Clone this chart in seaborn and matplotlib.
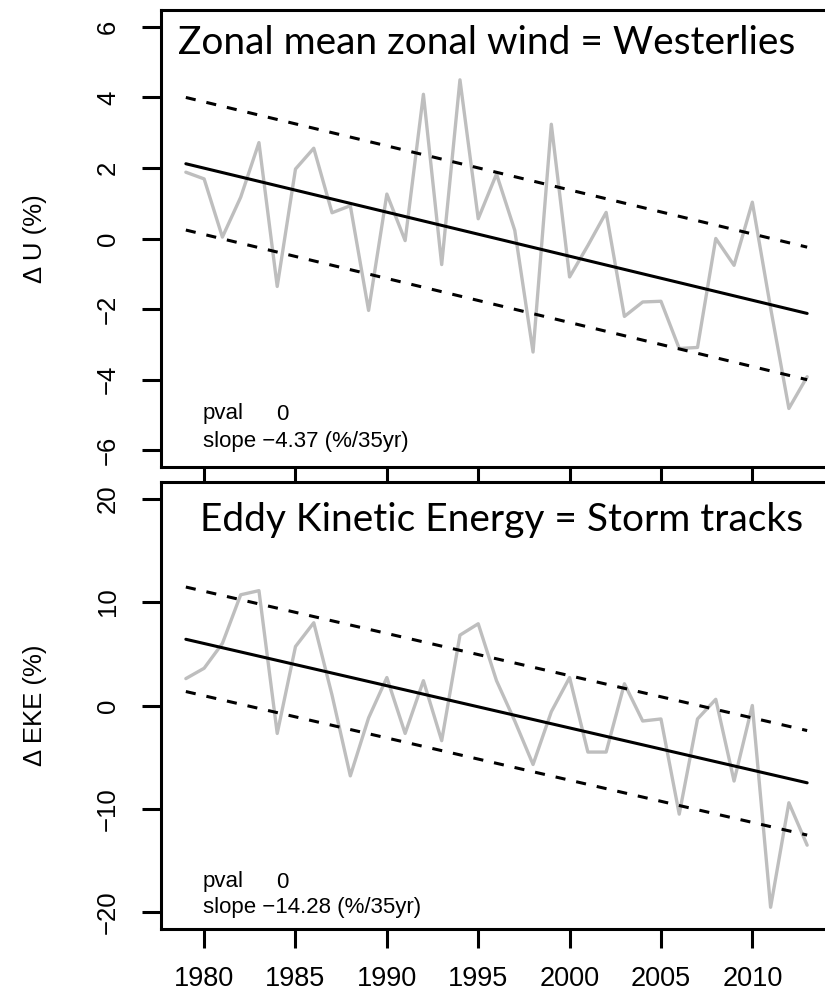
import matplotlib
matplotlib.use("Agg")
import matplotlib.pyplot as plt
import numpy as np
import pandas as pd
import seaborn as sns

# ---- data -------------------------------------------------------------
years = list(range(1979, 2014))

du_pct = [1.88, 1.69, 0.04, 1.17, 2.72, -1.36, 1.97, 2.56, 0.73, 0.93,
          -2.04, 1.26, -0.06, 4.09, -0.74, 4.50, 0.56, 1.83, 0.23, -3.22,
          3.24, -1.09, -0.20, 0.74, -2.21, -1.80, -1.78, -3.12, -3.09, 0.00,
          -0.76, 1.03, -1.97, -4.82, -3.92]

deke_pct = [2.6, 3.6, 6.0, 10.7, 11.1, -2.7, 5.7, 8.0, 1.0, -6.8,
            -1.2, 2.7, -2.7, 2.4, -3.4, 6.8, 7.9, 2.4, -1.5, -5.7,
            -0.6, 2.7, -4.5, -4.5, 2.1, -1.5, -1.3, -10.5, -1.3, 0.6,
            -7.3, 0.0, -19.5, -9.4, -13.5]

# linear trends: value at 1979, slope per 35 years, half-width of band
u_trend_start, u_slope35, u_band = 2.12, -4.37, 1.88
eke_trend_start, eke_slope35, eke_band = 6.40, -14.28, 5.05
pvals = ["0", "0"]

titles = ["Zonal mean zonal wind = Westerlies",
          "Eddy Kinetic Energy = Storm tracks"]
ylabels = ["\u0394 U (%)", "\u0394 EKE (%)"]
u_ticks = [-6, -4, -2, 0, 2, 4, 6]
eke_ticks = [-20, -10, 0, 10, 20]
year_ticks = [1980, 1985, 1990, 1995, 2000, 2005, 2010]

# ---- style ------------------------------------------------------------
sns.set_theme(style="ticks")
plt.rcParams["font.family"] = ["Liberation Sans", "DejaVu Sans"]
plt.rcParams["axes.linewidth"] = 2.2
plt.rcParams["xtick.major.width"] = 2.2
plt.rcParams["ytick.major.width"] = 2.2
plt.rcParams["xtick.major.size"] = 13.5
plt.rcParams["ytick.major.size"] = 13.5
plt.rcParams["xtick.color"] = "black"
plt.rcParams["ytick.color"] = "black"
plt.rcParams["xtick.labelcolor"] = "black"
plt.rcParams["ytick.labelcolor"] = "black"
plt.rcParams["axes.edgecolor"] = "black"
plt.rcParams["axes.labelcolor"] = "black"
plt.rcParams["text.color"] = "black"

W, H = 825, 1008
fig = plt.figure(figsize=(W / 100, H / 100), dpi=100)


def px_axes(left, top, right, bottom):
    return fig.add_axes([left / W, 1 - bottom / H, (right - left) / W,
                         (bottom - top) / H])


ax_u = px_axes(161, 10, 832, 467)
ax_e = px_axes(161, 482, 832, 929)

yrs = np.array(years, dtype=float)


def draw_panel(ax, values, start, slope35, band, ylim, yticks, title,
               ylabel, pval, slope_txt, title_pos):
    df = pd.DataFrame({"year": years, "value": values})
    sns.lineplot(data=df, x="year", y="value", ax=ax, color="#bebebe",
                 linewidth=2.4, zorder=2)
    trend = start + slope35 / 35.0 * (yrs - yrs[0])
    tdf = pd.DataFrame({"year": years, "trend": trend,
                        "upper": trend + band, "lower": trend - band})
    sns.lineplot(data=tdf, x="year", y="trend", ax=ax, color="black",
                 linewidth=2.2, zorder=3)
    for col in ["upper", "lower"]:
        sns.lineplot(data=tdf, x="year", y=col, ax=ax, color="black",
                     linewidth=2.2, zorder=3)
        ax.lines[-1].set_dashes((3.3, 3.6))
    ax.set_xlim(1977.64, 2014.36)
    ax.set_ylim(*ylim)
    ax.set_yticks(yticks)
    ax.set_yticklabels([str(t).replace("-", "\u2212") for t in yticks],
                       rotation=90, va="center", fontsize=18.5)
    ax.tick_params(axis="y", pad=16)
    ax.set_ylabel(ylabel, fontsize=18.5, va="center")
    ax.yaxis.set_label_coords(-126 / 671, 0.5)
    ax.set_xlabel("")
    ax.text(42 / 671, pval[1], "pval", transform=ax.transAxes,
            fontsize=16, va="center", ha="left")
    ax.text(115 / 671, pval[1], pval[0], transform=ax.transAxes,
            fontsize=16, va="center", ha="left")
    ax.text(42 / 671, slope_txt[1], slope_txt[0], transform=ax.transAxes,
            fontsize=16, va="center", ha="left")
    ax.text(title_pos[0], title_pos[1], title, transform=ax.transAxes,
            fontsize=28, fontfamily="Lato", va="baseline", ha="left",
            color="black", zorder=5)


draw_panel(ax_u, du_pct, u_trend_start, u_slope35, u_band,
           (-6.48, 6.48), u_ticks, titles[0], ylabels[0],
           (pvals[0], 53 / 457),
           ("slope \u22124.37 (%/35yr)", 26 / 457),
           (17 / 671, (467 - 54) / 457))
draw_panel(ax_e, deke_pct, eke_trend_start, eke_slope35, eke_band,
           (-21.6, 21.6), eke_ticks, titles[1], ylabels[1],
           (pvals[1], 47 / 447),
           ("slope \u221214.28 (%/35yr)", 21 / 447),
           (39 / 671, (929 - 531) / 447))

for ax in (ax_u, ax_e):
    ax.set_xticks(year_ticks)
    ax.spines["right"].set_visible(True)
    ax.spines["top"].set_visible(True)

ax_u.set_xticklabels([])
ax_e.set_xticklabels([str(y) for y in year_ticks], fontsize=19.5)
ax_e.tick_params(axis="x", pad=13)

fig.savefig("out.png", dpi=100)
